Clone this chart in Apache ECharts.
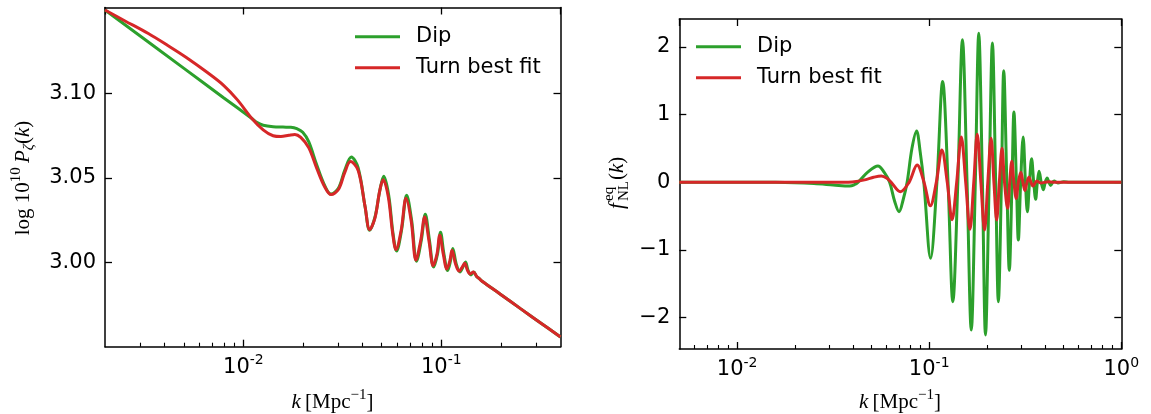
<!DOCTYPE html>
<html><head><meta charset="utf-8">
<script src="https://cdn.jsdelivr.net/npm/echarts@6/dist/echarts.min.js"></script>
<style>html,body{margin:0;padding:0;background:#fff}#c{width:1151px;height:414px}</style>
</head><body><div id="c"></div>
<script>
// ---------------- data ----------------
const seriesNames = ['Dip', 'Turn best fit'];

// Left panel: log 10^10 P_zeta(k)
const leftDipK = [0.002, 0.00501, 0.00794, 0.01104, 0.01175, 0.01259, 0.01413, 0.01585, 0.01738, 0.01862,
  0.01995, 0.02138, 0.02344, 0.02570, 0.02773, 0.03020, 0.03251, 0.03508, 0.03802, 0.04121,
  0.04345, 0.04624, 0.04898, 0.05117, 0.05420, 0.05702, 0.05943, 0.06295, 0.06683, 0.07079,
  0.07499, 0.07925, 0.08299, 0.08710, 0.09141, 0.09572, 0.09908, 0.10304, 0.10765, 0.11143,
  0.11429, 0.11885, 0.12417, 0.12853, 0.13243, 0.13646, 0.14125, 0.14588, 0.15066, 0.15560,
  0.16069, 0.19953, 0.25119, 0.31623, 0.4];
const leftDipP = [3.1493, 3.1148, 3.0975, 3.0852, 3.0828, 3.0812, 3.0803, 3.0801, 3.0800, 3.0792,
  3.0770, 3.0715, 3.0580, 3.0458, 3.0405, 3.0440, 3.0546, 3.0625, 3.0560, 3.0329,
  3.0191, 3.0270, 3.0430, 3.0511, 3.0400, 3.0172, 3.0069, 3.0191, 3.0398, 3.0250,
  3.0008, 3.0132, 3.0286, 3.0132, 2.9974, 3.0053, 3.0180, 3.0053, 2.9953, 3.0014,
  3.0083, 2.9994, 2.9945, 2.9974, 3.0004, 2.9955, 2.9927, 2.9944, 2.9918, 2.9905,
  2.9890, 2.9812, 2.9728, 2.9645, 2.9560];
const leftTurnK = [0.002, 0.002512, 0.003311, 0.004169, 0.005129, 0.006607, 0.007943, 0.009333, 0.01104, 0.01259,
  0.01413, 0.01549, 0.01698, 0.01820, 0.01950, 0.02138, 0.02344, 0.02570, 0.02773, 0.03020,
  0.03251, 0.03475, 0.03802, 0.04121, 0.04345, 0.04624, 0.04875, 0.05082, 0.05395, 0.05675,
  0.05902, 0.06266, 0.06637, 0.07047, 0.07447, 0.07870, 0.08241, 0.08670, 0.09099, 0.09506,
  0.09817, 0.10233, 0.10666, 0.11041, 0.11324, 0.11803, 0.12303, 0.12735, 0.13122, 0.13552,
  0.13996, 0.14521, 0.15066, 0.15560, 0.16069, 0.19953, 0.25119, 0.31623, 0.4];
const leftTurnP = [3.1493, 3.1430, 3.1354, 3.1282, 3.1214, 3.1122, 3.1048, 3.0962, 3.0852, 3.0785,
  3.0750, 3.0745, 3.0753, 3.0758, 3.0740, 3.0680, 3.0560, 3.0450, 3.0402, 3.0432,
  3.0532, 3.0597, 3.0545, 3.0330, 3.0195, 3.0265, 3.0420, 3.0490, 3.0390, 3.0175,
  3.0077, 3.0190, 3.0380, 3.0245, 3.0015, 3.0130, 3.0270, 3.0125, 2.9982, 3.0050,
  3.0162, 3.0050, 2.9962, 3.0010, 3.0073, 2.9992, 2.9950, 2.9972, 2.9996, 2.9955,
  2.9933, 2.9945, 2.9920, 2.9905, 2.9890, 2.9812, 2.9728, 2.9645, 2.9560];

// Right panel: f_NL^eq(k)
const rightDipK = [0.005, 0.01585, 0.01995, 0.02512, 0.03162, 0.03855, 0.04074, 0.04256, 0.04786, 0.05408,
  0.05821, 0.06223, 0.06607, 0.06966, 0.07328, 0.07674, 0.08128, 0.08590, 0.08974, 0.09376,
  0.10163, 0.10965, 0.11749, 0.12531, 0.13274, 0.14093, 0.14894, 0.15740, 0.16558, 0.17378,
  0.18113, 0.18923, 0.19634, 0.20512, 0.21330, 0.22182, 0.22909, 0.23768, 0.24434, 0.25351,
  0.26122, 0.26977, 0.27606, 0.28445, 0.29107, 0.29923, 0.30832, 0.31696, 0.32434, 0.33266,
  0.34119, 0.34995, 0.35810, 0.36559, 0.37325, 0.38282, 0.39264, 0.40179, 0.41115, 0.41976,
  0.42855, 0.44668, 0.46774, 0.50119, 0.53703, 1];
const rightDipF = [0, 0, -0.005, -0.018, -0.038, -0.055, -0.035, 0, 0.15, 0.243,
  0.15, 0, -0.28, -0.434, -0.25, 0, 0.50, 0.760, 0.45, 0,
  -1.123, 0, 1.490, 0, -1.764, 0, 2.108, 0, -2.183, 0,
  2.202, 0, -2.256, 0, 2.06, 0, -1.764, 0, 1.65, 0,
  -1.30, 0, 1.04, 0, -0.853, 0, 0.67, 0, -0.434, 0,
  0.35, 0, -0.25, 0, 0.165, 0, -0.11, 0, 0.065, 0,
  -0.045, 0.02, -0.01, 0.01, 0, 0];
const rightTurnK = [0.005, 0.03548, 0.03981, 0.04677, 0.05129, 0.05636, 0.06026, 0.06339, 0.07079, 0.07852,
  0.08650, 0.09397, 0.10139, 0.10889, 0.11641, 0.12417, 0.13152, 0.13900, 0.14689, 0.15488,
  0.16293, 0.17061, 0.17783, 0.18578, 0.19409, 0.20184, 0.20989, 0.21727, 0.22439, 0.23174,
  0.23933, 0.24660, 0.25586, 0.26242, 0.26915, 0.27606, 0.28379, 0.29107, 0.29992, 0.30761,
  0.31477, 0.32285, 0.33037, 0.33884, 0.34674, 0.36308, 0.38019, 0.41687, 0.44668, 1];
const rightTurnF = [0, 0, 0.005, 0.04, 0.075, 0.094, 0.06, 0, -0.139, 0,
  0.256, 0, -0.345, 0, 0.478, 0, -0.552, 0, 0.670, 0,
  -0.695, 0, 0.712, 0, -0.705, 0, 0.650, 0, -0.557, 0,
  0.502, 0, -0.384, 0, 0.31, 0, -0.24, 0, 0.15, 0,
  -0.12, 0, 0.075, 0, -0.055, 0.02, -0.01, 0.01, 0, 0];

// axis ranges and tick labels
const leftXRange = [0.002, 0.4];
const rightXRange = [0.005, 1];
const leftYRange = [2.9503, 3.1508];
const rightYRange = [-2.463, 2.414];
const leftYTicks = [3.00, 3.05, 3.10];
const rightYTicks = [-2, -1, 0, 1, 2];

// ---------------- styling ----------------
const GREEN = '#2ca02c', RED = '#d62728';
const SANS = 'DejaVu Sans', SERIF = 'Liberation Serif';
const AXIS_LINE = { color: '#000', width: 1.5 };
const TICK_FONT = 21;
const LEGEND_FONT = 21;

function pairs(xs, ys) { return xs.map((x, i) => [x, ys[i]]); }
function minorLogTicks(range) {
  const lo = Math.log10(range[0]), hi = Math.log10(range[1]), out = [];
  for (let d = Math.floor(lo); d <= Math.ceil(hi); d++) {
    for (let m = 2; m <= 9; m++) {
      const v = Math.log10(m) + d;
      if (v > lo + 1e-6 && v < hi - 1e-6) out.push(v);
    }
  }
  return out;
}
function mainX(grid, range, showMax) {
  return {
    type: 'log', logBase: 10, gridIndex: grid, min: range[0], max: range[1], position: 'bottom',
    axisLine: { show: true, onZero: false, lineStyle: AXIS_LINE },
    axisTick: { show: true, inside: true, length: 7, lineStyle: { color: '#000', width: 1.3 } },
    axisLabel: {
      show: true, margin: 7, showMinLabel: false, showMaxLabel: showMax, color: '#000',
      formatter: v => '{m|10}{e|' + Math.round(Math.log10(v)) + '}',
      rich: {
        m: { fontFamily: SANS, fontSize: TICK_FONT, color: '#000', lineHeight: 28, verticalAlign: 'middle' },
        e: { fontFamily: SANS, fontSize: 14, color: '#000', lineHeight: 14, verticalAlign: 'top' }
      }
    },
    splitLine: { show: false }, minorTick: { show: false }, minorSplitLine: { show: false }
  };
}
function topX(grid, range) {
  return {
    type: 'log', logBase: 10, gridIndex: grid, min: range[0], max: range[1], position: 'top',
    axisLine: { show: true, onZero: false, lineStyle: AXIS_LINE },
    axisTick: { show: true, inside: true, length: 7, lineStyle: { color: '#000', width: 1.3 } },
    axisLabel: { show: false }, splitLine: { show: false }
  };
}
function minorX(grid, range) {
  return {
    type: 'value', gridIndex: grid, min: Math.log10(range[0]), max: Math.log10(range[1]), position: 'bottom',
    axisLine: { show: false, onZero: false },
    axisTick: { show: true, inside: true, length: 4, customValues: minorLogTicks(range), lineStyle: { color: '#000', width: 1.1 } },
    axisLabel: { show: false }, splitLine: { show: false }
  };
}
function yAx(grid, range, ticks, pos, fmt) {
  return {
    type: 'value', gridIndex: grid, min: range[0], max: range[1], position: pos,
    axisLine: { show: true, onZero: false, lineStyle: AXIS_LINE },
    axisTick: { show: true, inside: true, length: 7, customValues: ticks, lineStyle: { color: '#000', width: 1.3 } },
    axisLabel: pos === 'left'
      ? { show: true, customValues: ticks, margin: 9, formatter: fmt, fontFamily: SANS, fontSize: TICK_FONT, color: '#000' }
      : { show: false },
    splitLine: { show: false }
  };
}
function lineSeries(name, xi, yi, xs, ys, color, z) {
  return {
    type: 'line', name: name, xAxisIndex: xi, yAxisIndex: yi, data: pairs(xs, ys),
    showSymbol: false, symbol: 'none', smooth: 0.35, z: z,
    lineStyle: { color: color, width: 3 }, itemStyle: { color: color }
  };
}
function legendAt(left, top) {
  return {
    data: seriesNames, orient: 'vertical', left: left, top: top, padding: 0,
    itemWidth: 45, itemHeight: 3, itemGap: 10, icon: 'rect', selectedMode: false,
    formatter: n => '{t|' + n + '}',
    textStyle: { color: '#000', fontFamily: SANS, fontSize: LEGEND_FONT,
      rich: { t: { color: '#000', fontFamily: SANS, fontSize: LEGEND_FONT, lineHeight: 21, padding: [0, 0, 0, 11] } } }
  };
}
const titleRich = {
  r: { fontFamily: SERIF, fontSize: 21, lineHeight: 28, fill: '#000', verticalAlign: 'middle' },
  it: { fontFamily: SERIF, fontStyle: 'italic', fontSize: 21, lineHeight: 28, fill: '#000', verticalAlign: 'middle' },
  sup: { fontFamily: SERIF, fontSize: 15, lineHeight: 14, fill: '#000', verticalAlign: 'top' },
  sub: { fontFamily: SERIF, fontSize: 15, lineHeight: 14, fill: '#000', verticalAlign: 'bottom' },
  subi: { fontFamily: SERIF, fontStyle: 'italic', fontSize: 15, lineHeight: 14, fill: '#000', verticalAlign: 'bottom' }
};
const xTitleText = '{it|k}{r|\u2009[Mpc}{sup|\u22121}{r|]}';

const option = {
  animation: false,
  backgroundColor: '#fff',
  color: [GREEN, RED],
  grid: [
    { left: 105, top: 7.5, width: 455.5, height: 339.2, containLabel: false },
    { left: 679.3, top: 19, width: 442, height: 330, containLabel: false }
  ],
  xAxis: [
    mainX(0, leftXRange, false), topX(0, leftXRange), minorX(0, leftXRange),
    mainX(1, rightXRange, true), topX(1, rightXRange), minorX(1, rightXRange)
  ],
  yAxis: [
    yAx(0, leftYRange, leftYTicks, 'left', v => v.toFixed(2)),
    yAx(0, leftYRange, leftYTicks, 'right'),
    yAx(1, rightYRange, rightYTicks, 'left', v => (v < 0 ? '\u2212' + Math.abs(v) : String(v))),
    yAx(1, rightYRange, rightYTicks, 'right')
  ],
  legend: [legendAt(355, 26.2), legendAt(696, 36.2)],
  series: [
    lineSeries(seriesNames[0], 0, 0, leftDipK, leftDipP, GREEN, 2),
    lineSeries(seriesNames[1], 0, 0, leftTurnK, leftTurnP, RED, 3),
    lineSeries(seriesNames[0], 3, 2, rightDipK, rightDipF, GREEN, 2),
    lineSeries(seriesNames[1], 3, 2, rightTurnK, rightTurnF, RED, 3)
  ],
  graphic: [
    { type: 'text', x: 23, y: 178, rotation: Math.PI / 2,
      style: { text: '{r|log 10}{sup|10}{r|\u2009}{it|P}{subi|\u03b6}{r|(}{it|k}{r|)}', align: 'center', verticalAlign: 'middle', rich: titleRich } },
    { type: 'text', x: 332.5, y: 402,
      style: { text: xTitleText, align: 'center', verticalAlign: 'middle', rich: titleRich } },
    { type: 'text', x: 900, y: 402,
      style: { text: xTitleText, align: 'center', verticalAlign: 'middle', rich: titleRich } },
    { type: 'group', x: 617, y: 181, rotation: Math.PI / 2,
      children: [
        { type: 'text', x: -28, y: 0, style: { text: 'f', font: 'italic 21px "Liberation Serif"', fill: '#000', align: 'left', verticalAlign: 'middle' } },
        { type: 'text', x: -20, y: -8, style: { text: 'eq', font: '15px "Liberation Serif"', fill: '#000', align: 'left', verticalAlign: 'middle' } },
        { type: 'text', x: -20, y: 7, style: { text: 'NL', font: '15px "Liberation Serif"', fill: '#000', align: 'left', verticalAlign: 'middle' } },
        { type: 'text', x: 1, y: 0, style: { text: '{r|(}{it|k}{r|)}', align: 'left', verticalAlign: 'middle', rich: titleRich } }
      ] }
  ]
};

const chart = echarts.init(document.getElementById('c'), null, { renderer: 'canvas' });
chart.setOption(option);
</script>
</body></html>
